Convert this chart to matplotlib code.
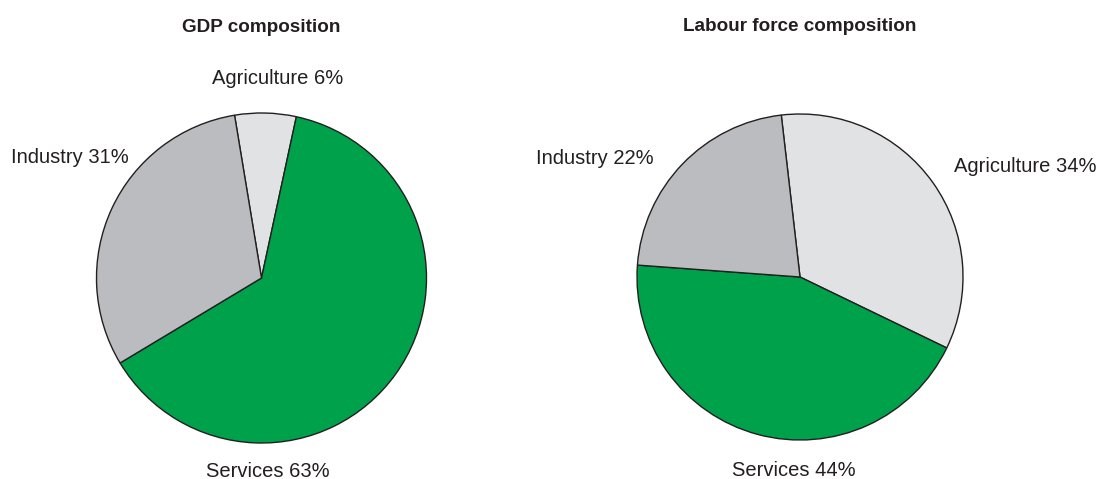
import matplotlib.pyplot as plt
import numpy as np

plt.rcParams['font.family'] = ['Liberation Sans', 'DejaVu Sans']

# data
sectors = ['Agriculture', 'Services', 'Industry']
gdp_share = [6, 63, 31]
labour_share = [34, 44, 22]
colors = ['#e1e2e4', '#00a14b', '#bbbcbf']

W, H = 1101, 479
fig = plt.figure(figsize=(W / 100, H / 100), dpi=100)


def make_ax(cx, cy, r, size=400):
    # axes in pixels, centred on the pie centre, 1 data unit = r px
    ax = fig.add_axes([(cx - size / 2) / W, (H - cy - size / 2) / H, size / W, size / H])
    ax.axis('off')
    return ax


def draw_pie(ax, vals, start, title, label_pos, r, title_y):
    ax.pie(vals, colors=colors, startangle=start, counterclock=False,
           wedgeprops=dict(edgecolor='#231f20', linewidth=1.0), radius=1.0)
    lim = 200 / r
    ax.set_xlim(-lim, lim)
    ax.set_ylim(-lim, lim)
    ax.set_aspect('equal')
    for name, v, (x, y) in zip(sectors, vals, label_pos):
        ax.text(x, y, '%s %d%%' % (name, v), ha='center', va='center',
                fontsize=14.5, color='#231f20')
    ax.text(0, title_y, title, ha='center', va='center', fontsize=13.6,
            fontweight='bold', color='#231f20')


ax1 = make_ax(261.5, 278, 165)
draw_pie(ax1, gdp_share, 99.4, 'GDP composition',
         [(0.10, 1.21), (0.04, -1.17), (-1.16, 0.73)], 165, 1.52)

ax2 = make_ax(800, 277, 163)
draw_pie(ax2, labour_share, 96.6, 'Labour force composition',
         [(1.38, 0.68), (-0.04, -1.19), (-1.26, 0.73)], 163, 1.535)

fig.savefig('out.png', dpi=100)
